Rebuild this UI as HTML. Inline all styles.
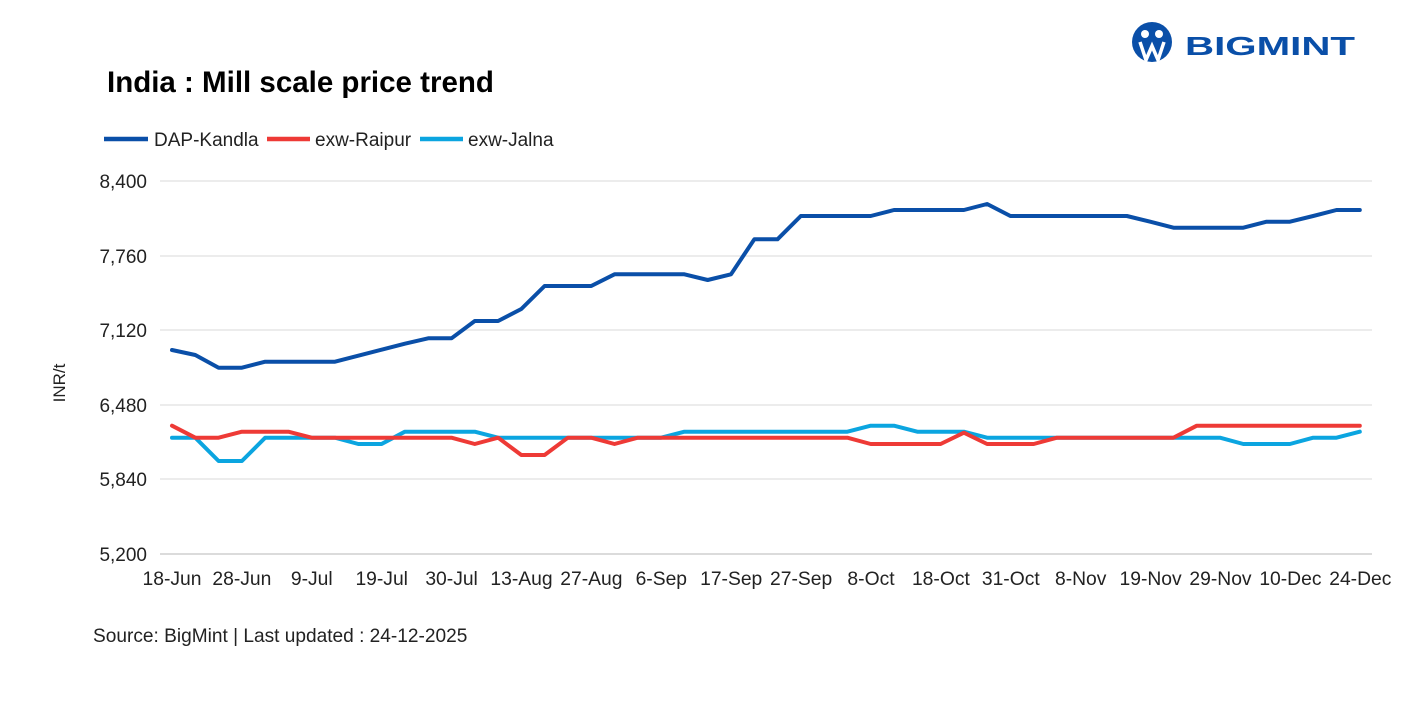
<!DOCTYPE html>
<html><head><meta charset="utf-8"><style>body{margin:0;background:#fff}svg{display:block;font-family:"Liberation Sans",Arial,sans-serif}</style></head>
<body>
<svg width="1418" height="713" viewBox="0 0 1418 713" xmlns="http://www.w3.org/2000/svg">
<rect width="1418" height="713" fill="#fff"/>
<!-- logo -->
<circle cx="1152" cy="42" r="20" fill="#0a4fa8"/>
<circle cx="1145" cy="34" r="4" fill="#fff"/>
<circle cx="1159" cy="34" r="4" fill="#fff"/>
<path d="M1140 42 L1146 60 L1152 46 L1158 60 L1164 42" stroke="#fff" stroke-width="3.5" fill="none"/>
<text x="1185" y="55" font-size="26" font-weight="bold" fill="#0a4fa8" textLength="170" lengthAdjust="spacingAndGlyphs">BIGMINT</text>
<text x="107" y="92" font-size="29.5" font-weight="bold" fill="#000">India : Mill scale price trend</text>
<!-- legend -->
<g font-size="19" fill="#222">
<line x1="104" y1="139" x2="148" y2="139" stroke="#0a4fa8" stroke-width="4.5"/>
<text x="154" y="146">DAP-Kandla</text>
<line x1="267" y1="139" x2="310" y2="139" stroke="#ee3a36" stroke-width="4.5"/>
<text x="315" y="146">exw-Raipur</text>
<line x1="420" y1="139" x2="463" y2="139" stroke="#0ba5e0" stroke-width="4.5"/>
<text x="468" y="146">exw-Jalna</text>
</g>
<!-- grid -->
<g stroke="#e6e6e6" stroke-width="1.5">
<line x1="160" y1="181" x2="1372" y2="181"/>
<line x1="160" y1="256" x2="1372" y2="256"/>
<line x1="160" y1="330" x2="1372" y2="330"/>
<line x1="160" y1="405" x2="1372" y2="405"/>
<line x1="160" y1="479" x2="1372" y2="479"/>
</g>
<line x1="160" y1="554" x2="1372" y2="554" stroke="#cfcfcf" stroke-width="1.5"/>
<g font-size="19" fill="#222" text-anchor="end">
<text x="147" y="188">8,400</text>
<text x="147" y="263">7,760</text>
<text x="147" y="337">7,120</text>
<text x="147" y="412">6,480</text>
<text x="147" y="486">5,840</text>
<text x="147" y="561">5,200</text>
</g>
<text transform="translate(65,383) rotate(-90)" font-size="17" fill="#222" text-anchor="middle">INR/t</text>
<g font-size="19.3" fill="#222" text-anchor="middle" id="xl"></g>
<text x="93" y="642" font-size="19.1" fill="#222">Source: BigMint | Last updated : 24-12-2025</text>
<g fill="none" stroke-width="4" stroke-linejoin="round" stroke-linecap="round" id="series"></g>
<script>
var NS='http://www.w3.org/2000/svg';
var labs=['18-Jun','28-Jun','9-Jul','19-Jul','30-Jul','13-Aug','27-Aug','6-Sep','17-Sep','27-Sep','8-Oct','18-Oct','31-Oct','8-Nov','19-Nov','29-Nov','10-Dec','24-Dec'];
var xl=document.getElementById('xl');
labs.forEach(function(l,i){var t=document.createElementNS(NS,'text');
t.setAttribute('x',172+i*69.9);t.setAttribute('y',585);t.textContent=l;xl.appendChild(t);});
var X=function(i){return 172+i*23.29};
function Y(v){return 190+v/3}
var blue=[480,495,533,533,515,515,515,515,497,479,461,445,445,393,393,357,288,288,288,253,253,253,253,270,253,148,148,78,78,78,78,60,60,60,60,42,78,78,78,78,78,78,95,113,113,113,113,95,95,78,60,60];
var red=[707,743,743,725,725,725,743,743,743,743,743,743,743,762,743,795,795,743,743,762,743,743,743,743,743,743,743,743,743,743,762,762,762,762,728,762,762,762,743,743,743,743,743,743,707,707,707,707,707,707,707,707];
var cyan=[743,743,813,813,743,743,743,743,762,762,725,725,725,725,743,743,743,743,743,743,743,743,725,725,725,725,725,725,725,725,707,707,725,725,725,743,743,743,743,743,743,743,743,743,743,743,762,762,762,743,743,725];
var g=document.getElementById('series');
[[cyan,'#0ba5e0'],[red,'#ee3a36'],[blue,'#0a4fa8']].forEach(function(s){
var d=s[0].map(function(v,i){return (i?'L':'M')+X(i).toFixed(1)+' '+Y(v).toFixed(1)}).join(' ');
var p=document.createElementNS(NS,'path');
p.setAttribute('d',d);p.setAttribute('stroke',s[1]);g.appendChild(p);});
</script>
</svg>
</body></html>
